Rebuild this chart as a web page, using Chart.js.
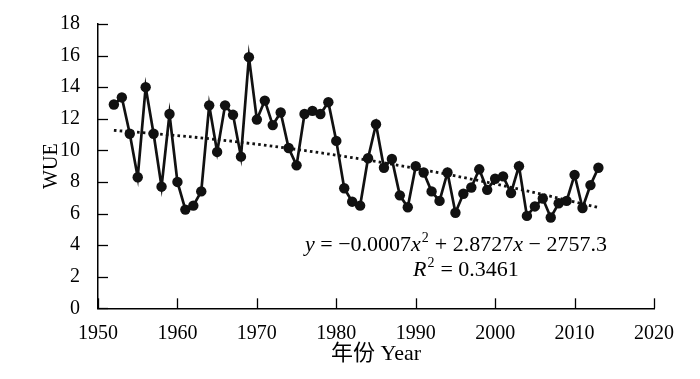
<!DOCTYPE html>
<html><head><meta charset="utf-8">
<script src="https://cdn.jsdelivr.net/npm/chart.js@4.4.1/dist/chart.umd.min.js"></script>
<style>html,body{margin:0;padding:0;background:#fff;}</style>
</head><body>
<canvas id="c" width="700" height="379"></canvas>
<script>
const years = [1952,1953,1954,1955,1956,1957,1958,1959,1960,1961,1962,1963,1964,1965,1966,1967,1968,1969,1970,1971,1972,1973,1974,1975,1976,1977,1978,1979,1980,1981,1982,1983,1984,1985,1986,1987,1988,1989,1990,1991,1992,1993,1994,1995,1996,1997,1998,1999,2000,2001,2002,2003,2004,2005,2006,2007,2008,2009,2010,2011,2012,2013];
const wue = [12.9,13.35,11.05,8.3,14.0,11.05,7.7,12.3,8.0,6.25,6.5,7.4,12.85,9.9,12.85,12.25,9.6,15.9,11.95,13.15,11.6,12.4,10.15,9.05,12.3,12.5,12.3,13.05,10.6,7.6,6.75,6.5,9.5,11.65,8.9,9.45,7.15,6.4,9.0,8.6,7.4,6.8,8.6,6.05,7.25,7.65,8.8,7.5,8.2,8.35,7.3,9.0,5.85,6.45,6.95,5.75,6.65,6.8,8.45,6.35,7.8,8.9];
const trendYears = [1952,1962,1972,1982,1992,2002,2013];
const trendValues = [11.27,10.84,10.26,9.54,8.67,7.66,6.38];
const xTickValues = [1950,1960,1970,1980,1990,2000,2010,2020];
const yTickValues = [0,2,4,6,8,10,12,14,16,18];
const xTitle = '年份 Year';
const yTitle = 'WUE';
const eqLine1 = [['y','i'],[' = −0.0007','n'],['x','i'],['2','s'],[' + 2.8727','n'],['x','i'],[' − 2757.3','n']];
const eqLine2 = [['R','i'],['2','s'],[' = 0.3461','n']];

const SERIF = '"Liberation Serif", "Times New Roman", serif';
const CJK = '"Liberation Serif", "Noto Sans CJK SC", serif';

const inwardTicks = {
  id: 'inwardTicks',
  beforeDatasetsDraw(chart) {
    const {ctx, chartArea, scales: {x, y}} = chart;
    ctx.save();
    ctx.strokeStyle = '#000';
    ctx.lineWidth = 1.3;
    x.ticks.forEach(t => {
      const px = Math.round(x.getPixelForValue(t.value)) + 0.5;
      ctx.beginPath(); ctx.moveTo(px, chartArea.bottom); ctx.lineTo(px, chartArea.bottom - 10); ctx.stroke();
    });
    y.ticks.forEach(t => {
      const py = Math.round(y.getPixelForValue(t.value)) + 0.5;
      ctx.beginPath(); ctx.moveTo(chartArea.left, py); ctx.lineTo(chartArea.left + 10, py); ctx.stroke();
    });
    ctx.restore();
  }
};

function drawSegments(ctx, segs, x0, base, size) {
  let x = x0;
  segs.forEach(([t, k]) => {
    if (k === 's') {
      ctx.font = `${Math.round(size * 0.62)}px ${SERIF}`;
      ctx.fillText(t, x + 1, base - size * 0.42);
      x += ctx.measureText(t).width + 1.5;
    } else {
      ctx.font = `${k === 'i' ? 'italic ' : ''}${size}px ${SERIF}`;
      ctx.fillText(t, x, base);
      x += ctx.measureText(t).width;
    }
  });
  return x;
}

const equationPlugin = {
  id: 'equation',
  afterDraw(chart) {
    const {ctx, chartArea} = chart;
    ctx.save();
    ctx.fillStyle = '#000';
    ctx.textBaseline = 'alphabetic';
    drawSegments(ctx, eqLine1, chartArea.left + 207, 251, 22);
    drawSegments(ctx, eqLine2, chartArea.left + 315, 276, 22);
    ctx.restore();
  }
};

new Chart(document.getElementById('c'), {
  type: 'line',
  data: {
    datasets: [
      {
        data: years.map((yr, i) => ({x: yr, y: wue[i]})),
        borderColor: '#111',
        backgroundColor: '#111',
        borderWidth: 2.7,
        pointRadius: 5.2,
        pointBorderWidth: 0,
        pointBackgroundColor: '#111',
        tension: 0,
        order: 1
      },
      {
        data: trendYears.map((yr, i) => ({x: yr, y: trendValues[i]})),
        borderColor: '#111',
        borderWidth: 2.8,
        borderDash: [2.6, 3.2],
        pointRadius: 0,
        tension: 0.4,
        cubicInterpolationMode: 'monotone',
        order: 2
      }
    ]
  },
  options: {
    responsive: false,
    animation: false,
    layout: {padding: {left: 0, right: 46, top: 24, bottom: 0}},
    plugins: {legend: {display: false}, tooltip: {enabled: false}},
    scales: {
      x: {
        type: 'linear',
        min: 1950, max: 2020,
        afterBuildTicks(s) { s.ticks = xTickValues.map(v => ({value: v})); },
        afterFit(s) { s.height = 70.7; },
        grid: {display: false},
        border: {display: true, color: '#000', width: 1.5},
        ticks: {color: '#000', font: {family: SERIF, size: 20}, padding: 5, maxRotation: 0, autoSkip: false, callback: v => String(v)},
        title: {display: true, text: xTitle, color: '#000', font: {family: CJK, size: 22}, padding: {top: 0, bottom: 12}}
      },
      y: {
        min: 0, max: 18,
        afterBuildTicks(s) { s.ticks = yTickValues.map(v => ({value: v})); },
        afterFit(s) { s.width = 98; },
        grid: {display: false},
        border: {display: true, color: '#000', width: 1.5},
        ticks: {color: '#000', font: {family: SERIF, size: 20}, padding: 10, callback: v => String(v)},
        title: {display: true, text: yTitle, color: '#000', font: {family: SERIF, size: 20}, padding: {top: 40, bottom: 0}}
      }
    }
  },
  plugins: [inwardTicks, equationPlugin]
});
</script>
</body></html>
